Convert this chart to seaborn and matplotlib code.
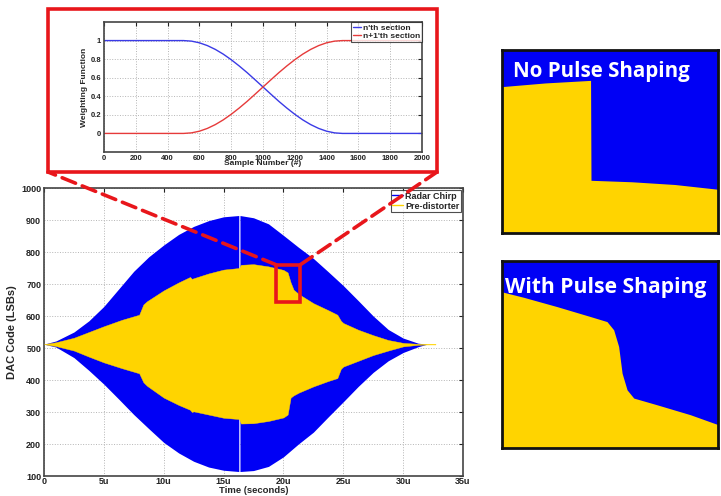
import matplotlib
matplotlib.use("Agg")
import matplotlib.pyplot as plt
import matplotlib.patches as mpatches
from matplotlib.lines import Line2D
from matplotlib.patches import ConnectionPatch
import pandas as pd
import seaborn as sns

# --- datos ---
# envolvente del chirp (dos tramos, hay un corte blanco en ~16.3u)
t_chirp_a = [0, 1, 2.5, 3.75, 5, 6.25, 7.5, 8.75, 10, 11.25, 12.5, 13.75, 15, 16.27]
up_a = [512, 522, 550, 585, 630, 685, 740, 785, 822, 855, 880, 898, 910, 914]
lo_a = [512, 503, 470, 430, 387, 340, 292, 248, 205, 172, 146, 128, 118, 114]
t_chirp_b = [16.37, 17.5, 18.75, 20, 21.25, 22.5, 23.75, 25, 26.25, 27.5, 28.75, 30, 31.25, 32.0]
up_b = [914, 907, 888, 852, 815, 780, 738, 695, 648, 600, 558, 531, 515, 512]
lo_b = [114, 117, 130, 160, 200, 237, 285, 332, 380, 424, 460, 486, 504, 512]

# envolvente del pre-distorsionador
t_pre = [0, 1, 2.5, 3.75, 5, 6.5, 7.95, 8.3, 8.6, 10,
         11.25, 12.2, 12.35, 12.5, 13.75, 15, 16.3, 16.45, 17.5, 18.75,
         20.0, 20.35, 20.6, 20.85, 21.3, 22.5, 23.75, 24.5, 24.8, 25.0,
         26.25, 27.5, 28.75, 30, 31.25, 32, 32.7]
pre_up = [512, 518, 532, 550, 568, 588, 604, 636, 646, 680,
          705, 722, 716, 718, 733, 745, 750, 760, 762, 755,
          744, 736, 705, 682, 668, 640, 618, 604, 585, 578,
          557, 540, 525, 516, 513, 513, 513]
pre_lo = [512, 506, 492, 473, 455, 437, 421, 393, 382, 345,
          322, 307, 300, 302, 292, 282, 278, 264, 265, 272,
          283, 292, 345, 352, 361, 380, 397, 406, 435, 442,
          460, 478, 492, 505, 510, 511, 511]

time_ticks = [0, 5, 10, 15, 20, 25, 30, 35]
time_labels = ['0', '5u', '10u', '15u', '20u', '25u', '30u', '35u']
dac_ticks = [100, 200, 300, 400, 500, 600, 700, 800, 900, 1000]

# funcion de ponderacion (recuadro superior)
samples = [0, 100, 200, 300, 400, 500, 550, 600, 650, 700, 750, 800, 850, 900, 950,
           1000, 1050, 1100, 1150, 1200, 1250, 1300, 1350, 1400, 1450, 1500,
           1600, 1700, 1800, 1900, 2000]
w_n = [1, 1, 1, 1, 1, 1, 0.994, 0.976, 0.946, 0.905, 0.854, 0.794, 0.727, 0.655, 0.578,
       0.5, 0.422, 0.345, 0.273, 0.206, 0.146, 0.095, 0.054, 0.024, 0.006, 0,
       0, 0, 0, 0, 0]
w_n1 = [0, 0, 0, 0, 0, 0, 0.006, 0.024, 0.054, 0.095, 0.146, 0.206, 0.273, 0.345, 0.422,
        0.5, 0.578, 0.655, 0.727, 0.794, 0.854, 0.905, 0.946, 0.976, 0.994, 1,
        1, 1, 1, 1, 1]

# detalle ampliado (paneles derechos), coordenadas normalizadas del panel
zoom_x_a = [0, 0.2, 0.41, 0.412, 0.6, 0.8, 1.0]
zoom_y_a = [0.80, 0.82, 0.834, 0.288, 0.28, 0.265, 0.239]
zoom_x_b = [0, 0.1, 0.255, 0.409, 0.486, 0.517, 0.54, 0.556, 0.579, 0.61, 0.718, 0.872, 1.0]
zoom_y_b = [0.835, 0.806, 0.756, 0.703, 0.676, 0.632, 0.543, 0.4, 0.311, 0.267, 0.231, 0.178, 0.125]

AZUL = '#0000F5'
AMARILLO = '#FFD400'
ROJO = '#E8161B'

sns.set_theme(style="white")
plt.rcParams['font.family'] = ['Liberation Sans', 'DejaVu Sans']

fig = plt.figure(figsize=(7.21, 4.96), dpi=100)


def estilo_matlab(ax, fs):
    ax.grid(True, color='#b5b5b5', linestyle=':', linewidth=0.7)
    ax.tick_params(direction='in', length=3, width=0.8, top=True, right=True,
                   labelsize=fs, colors='#222222', pad=2)
    for lab in ax.get_xticklabels() + ax.get_yticklabels():
        lab.set_fontweight('bold')
    for s in ax.spines.values():
        s.set_color('#444444')
        s.set_linewidth(1.2)
        s.set_visible(True)


# --- grafico principal ---
ax = fig.add_axes([44 / 721, 1 - 476 / 496, 419 / 721, 288 / 496])
ax.fill_between(t_chirp_a, lo_a, up_a, color=AZUL, linewidth=0, zorder=2)
ax.fill_between(t_chirp_b, lo_b, up_b, color=AZUL, linewidth=0, zorder=2)
ax.fill_between(t_pre, pre_lo, pre_up, color=AMARILLO, linewidth=0.3,
                edgecolor=AMARILLO, zorder=3)
ax.set_xlim(0, 35)
ax.set_ylim(100, 1000)
ax.set_xticks(time_ticks)
ax.set_xticklabels(time_labels)
ax.set_yticks(dac_ticks)
estilo_matlab(ax, 6.5)
ax.tick_params(axis='x', pad=0.5)
ax.set_xlabel('Time (seconds)', fontsize=6.8, fontweight='bold', labelpad=0)
ax.set_ylabel('DAC Code (LSBs)', fontsize=8, fontweight='bold', labelpad=3)
ax.set_axisbelow(True)
manejadores = [Line2D([], [], color=AZUL, lw=1), Line2D([], [], color=AMARILLO, lw=1)]
ley = ax.legend(manejadores, ['Radar Chirp', 'Pre-distorter'], loc='upper right',
                fontsize=6.5, frameon=True, fancybox=False, handlelength=1.2,
                handletextpad=0.2, borderpad=0.2, labelspacing=0.1,
                borderaxespad=0.2)
ley.get_frame().set_edgecolor('#222222')
ley.get_frame().set_linewidth(0.8)
for txt in ley.get_texts():
    txt.set_fontweight('bold')

ax.add_patch(mpatches.Rectangle((19.4, 643), 2.0, 117, fill=False, edgecolor=ROJO,
                                linewidth=2.6, zorder=6))

# --- recuadro superior ---
ax_in = fig.add_axes([104 / 721, 1 - 152 / 496, 318 / 721, 130 / 496])
df_w = pd.DataFrame({'Sample': samples, "n'th section": w_n, "n+1'th section": w_n1})
df_w = df_w.melt(id_vars='Sample', var_name='section', value_name='w')
sns.lineplot(data=df_w, x='Sample', y='w', hue='section', ax=ax_in,
             palette=['#3a3ae6', '#e63a3a'], linewidth=1.0)
ax_in.set_xlim(0, 2000)
ax_in.set_ylim(-0.2, 1.2)
ax_in.set_xticks(list(range(0, 2001, 200)))
ax_in.set_yticks([0, 0.2, 0.4, 0.6, 0.8, 1])
ax_in.set_yticklabels(['0', '0.2', '0.4', '0.6', '0.8', '1'])
ax_in.set_xlabel('Sample Number (#)', fontsize=6, fontweight='bold', labelpad=-1)
ax_in.set_ylabel('Weighting Function', fontsize=6, fontweight='bold', labelpad=2)
estilo_matlab(ax_in, 5.5)
ley2 = ax_in.legend(loc='upper right', fontsize=6, frameon=True, fancybox=False,
                    handlelength=1.0, handletextpad=0.2, borderpad=0.2,
                    labelspacing=0.1, borderaxespad=0.0, title=None)
ley2.get_frame().set_edgecolor('#222222')
ley2.get_frame().set_linewidth(0.8)
for txt in ley2.get_texts():
    txt.set_fontweight('bold')

marco = mpatches.Rectangle((48 / 721, 1 - 172 / 496), 389 / 721, 163 / 496,
                           transform=fig.transFigure, fill=False, edgecolor=ROJO,
                           linewidth=2.6, zorder=10)
fig.add_artist(marco)

# lineas discontinuas que unen el detalle con el recuadro
for xa, ya, xb in [(19.4, 760, 48 / 721), (21.4, 760, 437 / 721)]:
    con = ConnectionPatch(xyA=(xa, ya), coordsA=ax.transData,
                          xyB=(xb, 1 - 172 / 496), coordsB=fig.transFigure,
                          color=ROJO, linewidth=2.6, linestyle=(0, (4, 2)), zorder=10)
    fig.add_artist(con)

# --- paneles derechos ---
paneles = [
    ([502 / 721, 1 - 233 / 496, 216 / 721, 183 / 496], zoom_x_a, zoom_y_a,
     'No Pulse Shaping', 0.051, 0.88, 14.8),
    ([502 / 721, 1 - 448 / 496, 216 / 721, 187 / 496], zoom_x_b, zoom_y_b,
     'With Pulse Shaping', 0.014, 0.856, 15.2),
]
for pos, zx, zy, titulo, tx, ty, fs in paneles:
    axz = fig.add_axes(pos)
    axz.set_facecolor(AZUL)
    axz.fill_between(zx, 0, zy, color=AMARILLO, linewidth=0)
    axz.set_xlim(0, 1)
    axz.set_ylim(0, 1)
    axz.set_xticks([])
    axz.set_yticks([])
    for s in axz.spines.values():
        s.set_visible(True)
        s.set_color('#111111')
        s.set_linewidth(2.0)
    axz.text(tx, ty, titulo, transform=axz.transAxes, color='white',
             fontsize=fs, fontweight='bold', family='Open Sans', va='center')

fig.savefig('out.png', dpi=100)
